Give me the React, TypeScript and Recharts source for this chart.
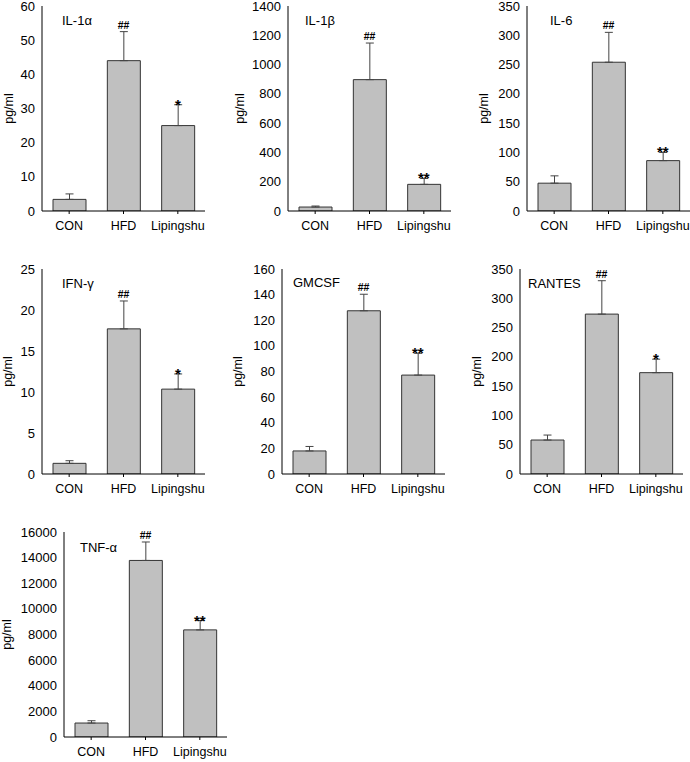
import React from 'react';
import { ComposedChart, Bar, Line, XAxis, YAxis, ErrorBar, LabelList } from 'recharts';

const categories = ['CON', 'HFD', 'Lipingshu'];
const titles = ['IL-1α', 'IL-1β', 'IL-6', 'IFN-γ', 'GMCSF', 'RANTES', 'TNF-α'];

const il1aMeans = [3.4, 44, 25];
const il1aErrors = [1.6, 8.5, 6.1];
const il1aSig = ['', '##', '*'];
const il1aTicks = [0, 10, 20, 30, 40, 50, 60];

const il1bMeans = [27, 897, 182];
const il1bErrors = [7, 250, 40];
const il1bSig = ['', '##', '**'];
const il1bTicks = [0, 200, 400, 600, 800, 1000, 1200, 1400];

const il6Means = [47.5, 254, 86];
const il6Errors = [12.5, 51, 14];
const il6Sig = ['', '##', '**'];
const il6Ticks = [0, 50, 100, 150, 200, 250, 300, 350];

const ifngMeans = [1.3, 17.7, 10.35];
const ifngErrors = [0.32, 3.4, 1.85];
const ifngSig = ['', '##', '*'];
const ifngTicks = [0, 5, 10, 15, 20, 25];

const gmcsfMeans = [18, 127.4, 77.2];
const gmcsfErrors = [3.5, 12.9, 17];
const gmcsfSig = ['', '##', '**'];
const gmcsfTicks = [0, 20, 40, 60, 80, 100, 120, 140, 160];

const rantesMeans = [58, 273, 173];
const rantesErrors = [8.5, 57, 23];
const rantesSig = ['', '##', '*'];
const rantesTicks = [0, 50, 100, 150, 200, 250, 300, 350];

const tnfaMeans = [1090, 13780, 8360];
const tnfaErrors = [180, 1440, 730];
const tnfaSig = ['', '##', '**'];
const tnfaTicks = [0, 2000, 4000, 6000, 8000, 10000, 12000, 14000, 16000];

const yLabel = 'pg/ml';

const panels = [
  { means: il1aMeans, errors: il1aErrors, sig: il1aSig, ticks: il1aTicks },
  { means: il1bMeans, errors: il1bErrors, sig: il1bSig, ticks: il1bTicks },
  { means: il6Means, errors: il6Errors, sig: il6Sig, ticks: il6Ticks },
  { means: ifngMeans, errors: ifngErrors, sig: ifngSig, ticks: ifngTicks },
  { means: gmcsfMeans, errors: gmcsfErrors, sig: gmcsfSig, ticks: gmcsfTicks },
  { means: rantesMeans, errors: rantesErrors, sig: rantesSig, ticks: rantesTicks },
  { means: tnfaMeans, errors: tnfaErrors, sig: tnfaSig, ticks: tnfaTicks },
];

const layouts = [
  { axisX: 42, top: 6, yW: 42, labelX: 9, titleX: 62, titleY: 20 },
  { axisX: 288, top: 6, yW: 60, labelX: 240, titleX: 305, titleY: 20 },
  { axisX: 527, top: 6, yW: 60, labelX: 484, titleX: 550, titleY: 20 },
  { axisX: 42, top: 269, yW: 42, labelX: 8, titleX: 62, titleY: 283 },
  { axisX: 282, top: 269, yW: 60, labelX: 238, titleX: 293, titleY: 282 },
  { axisX: 520, top: 269, yW: 60, labelX: 477, titleX: 528, titleY: 283 },
  { axisX: 64, top: 532, yW: 64, labelX: 7, titleX: 80, titleY: 547 },
];

const FONT = '"Liberation Sans", Arial, sans-serif';
const PLOT_W = 163;
const PLOT_H = 205;
const MARGIN_TOP = 10;
const X_AXIS_H = 30;

const renderSig = (props: any) => {
  const { x, y, value } = props;
  if (!value) return null;
  const isHash = String(value).indexOf('#') >= 0;
  return (
    <text
      x={x}
      y={isHash ? y - 3 : y + 5}
      textAnchor="middle"
      fontSize={isHash ? 10.5 : 15}
      fontWeight="bold"
      fontFamily={FONT}
      fill="#000"
    >
      {value}
    </text>
  );
};

function Panel({ idx }: { idx: number }) {
  const P = panels[idx];
  const L = layouts[idx];
  const data = categories.map((c, i) => ({
    cat: c,
    mean: P.means[i],
    err: [0, P.errors[i]],
    top: P.means[i] + P.errors[i],
    sig: P.sig[i],
  }));
  const chartLeft = L.axisX - L.yW;
  const chartTop = L.top - MARGIN_TOP;
  const width = L.yW + PLOT_W + 4;
  const height = MARGIN_TOP + PLOT_H + X_AXIS_H;
  const maxY = P.ticks[P.ticks.length - 1];

  const renderYLabel = (props: any) => {
    const vb = props.viewBox || { x: 0, y: MARGIN_TOP, width: L.yW, height: PLOT_H };
    const axisRight = vb.x + vb.width;
    const lx = L.labelX - chartLeft;
    const ly = vb.y + vb.height / 2;
    const tx = axisRight + (L.titleX - L.axisX);
    const ty = vb.y + (L.titleY - L.top);
    return (
      <g>
        <text
          x={lx}
          y={ly}
          transform={`rotate(-90, ${lx}, ${ly})`}
          textAnchor="middle"
          dominantBaseline="central"
          fontSize={12.5}
          fontFamily={FONT}
          fill="#000"
        >
          {yLabel}
        </text>
        <text
          x={tx}
          y={ty}
          dominantBaseline="central"
          fontSize={13}
          fontFamily={FONT}
          fill="#000"
        >
          {titles[idx]}
        </text>
      </g>
    );
  };

  return (
    <div style={{ position: 'absolute', left: chartLeft, top: chartTop }}>
      <ComposedChart
        width={width}
        height={height}
        data={data}
        margin={{ top: MARGIN_TOP, right: 4, bottom: 0, left: 0 }}
      >
        <XAxis
          dataKey="cat"
          height={X_AXIS_H}
          interval={0}
          tickSize={3}
          tickMargin={7}
          axisLine={{ stroke: '#000', strokeWidth: 1 }}
          tickLine={{ stroke: '#000' }}
          tick={{ fill: '#000', fontSize: 12.5, fontFamily: FONT }}
        />
        <YAxis
          width={L.yW}
          domain={[0, maxY]}
          ticks={P.ticks}
          allowDataOverflow
          interval={0}
          tickLine={false}
          tickSize={3}
          tickMargin={4}
          axisLine={{ stroke: '#000', strokeWidth: 1 }}
          tick={{ fill: '#000', fontSize: 13, fontFamily: FONT }}
          label={renderYLabel}
        />
        <Bar
          dataKey="mean"
          barSize={33}
          fill="#C0C0C0"
          stroke="#333"
          strokeWidth={1}
          isAnimationActive={false}
        >
          <ErrorBar dataKey="err" width={4} stroke="#444" strokeWidth={1} direction="y" />
        </Bar>
        <Line
          dataKey="top"
          stroke="none"
          dot={false}
          activeDot={false}
          isAnimationActive={false}
          legendType="none"
        >
          <LabelList dataKey="sig" content={renderSig} />
        </Line>
      </ComposedChart>
    </div>
  );
}

export default function App() {
  return (
    <div
      style={{
        position: 'absolute',
        left: 0,
        top: 0,
        width: 690,
        height: 762,
        background: '#fff',
        overflow: 'hidden',
      }}
    >
      {panels.map((_, i) => (
        <Panel key={i} idx={i} />
      ))}
    </div>
  );
}
